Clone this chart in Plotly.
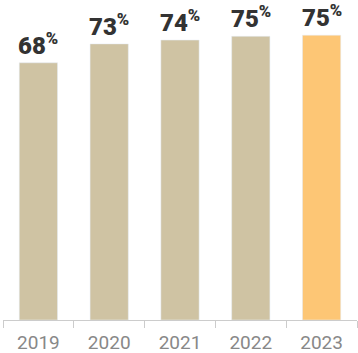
import plotly.graph_objects as go

years = ["2019", "2020", "2021", "2022", "2023"]
values = [68, 73, 74, 75, 75.3]
labels = ["68", "73", "74", "75", "75"]
colors = ["#CFC3A3", "#CFC3A3", "#CFC3A3", "#CFC3A3", "#FDC675"]

pos = list(range(len(years)))
bounds = [p - 0.5 for p in pos] + [pos[-1] + 0.5]

fig = go.Figure(go.Bar(x=pos, y=values, marker=dict(color=colors), width=0.54,
                       hoverinfo="none"))

for p, v, lab in zip(pos, values, labels):
    fig.add_annotation(x=p, y=v, text=f"{lab}<sup>%</sup>", showarrow=False,
                       yanchor="bottom", yshift=1,
                       font=dict(family="Roboto", size=24, color="#333333", weight=900))

fig.update_layout(
    width=358, height=353,
    margin=dict(l=3, r=1, t=0, b=33),
    plot_bgcolor="white", paper_bgcolor="white",
    showlegend=False,
    xaxis=dict(range=[-0.5, 4.5], tickvals=pos, ticktext=years, showline=True,
               linecolor="#cccccc", linewidth=1, zeroline=False,
               ticks="", showgrid=False, ticklabelstandoff=5,
               minor=dict(tickvals=bounds, ticks="outside", ticklen=7,
                          tickcolor="#cccccc", tickwidth=1, showgrid=False),
               tickfont=dict(family="Roboto", size=19, color="#888888")),
    yaxis=dict(range=[0, 84.6], visible=False, showgrid=False, zeroline=False),
)
fig.write_html("out.html", config={"displayModeBar": False},
               post_script="document.body.style.margin='0';document.body.style.padding='0';")
